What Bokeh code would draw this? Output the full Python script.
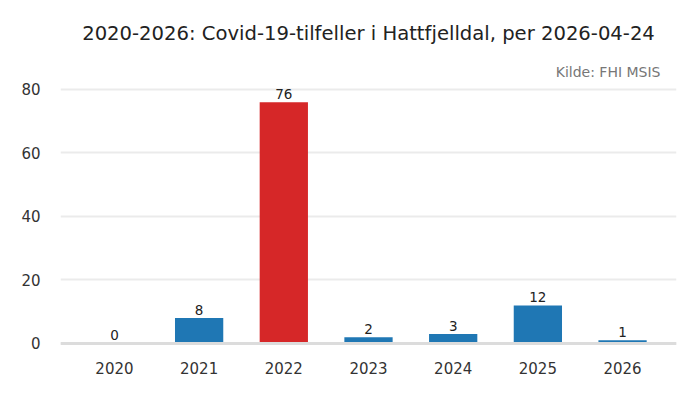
from bokeh.plotting import figure
from bokeh.models import FactorRange, Range1d, ColumnDataSource, Span, Label, FixedTicker
from bokeh.embed import file_html
from bokeh.resources import INLINE
from bokeh.core.properties import value

years = ["2020", "2021", "2022", "2023", "2024", "2025", "2026"]
cases = [0, 8, 76, 2, 3, 12, 1]
labels = ["0", "8", "76", "2", "3", "12", "1"]
colors = ["#1f77b4", "#1f77b4", "#d62728", "#1f77b4", "#1f77b4", "#1f77b4", "#1f77b4"]
y_ticks = [0, 20, 40, 60, 80]
title_text = "2020-2026: Covid-19-tilfeller i Hattfjelldal, per 2026-04-24"
source_text = "Kilde: FHI MSIS"

FONT = "DejaVu Sans"

src = ColumnDataSource(dict(year=years, cases=cases, label=labels, color=colors))

p = figure(
    width=684, height=384,
    x_range=FactorRange(factors=years, range_padding=0.137, range_padding_units="absolute"),
    y_range=Range1d(-0.63, 104.25),
    output_backend="svg", toolbar_location=None,
)
p.min_border_left = 60
p.min_border_right = 8
p.min_border_top = 12
p.min_border_bottom = 39
p.outline_line_color = None
p.background_fill_color = "white"
p.border_fill_color = "white"

p.vbar(x="year", top="cases", width=0.57, color="color", line_color=None, source=src)
p.text(x="year", y="cases", text="label", source=src,
       text_align="center", text_baseline="bottom", y_offset=-3,
       text_font=value(FONT), text_font_size="13.5px", text_color="#222222")

p.add_layout(Span(location=0, dimension="width", line_color="#dcdcdc", line_width=3))

p.xgrid.grid_line_color = None
p.ygrid.grid_line_color = "#ebebeb"
p.ygrid.grid_line_width = 2
p.yaxis.ticker = FixedTicker(ticks=y_ticks)

for ax in (p.xaxis[0], p.yaxis[0]):
    ax.axis_line_color = None
    ax.major_tick_line_color = None
    ax.minor_tick_line_color = None
    ax.major_label_text_font = FONT
    ax.major_label_text_font_size = "15px"
    ax.major_label_text_color = "#333333"
p.yaxis.major_label_standoff = 14
p.xaxis.major_label_standoff = 10

p.add_layout(Label(x=3.5, y=97.6, text=title_text, text_align="center", text_baseline="middle",
                   text_font=FONT, text_font_size="19.6px", text_color="#222222"))
p.add_layout(Label(x=6.948, y=85.4, text=source_text, text_align="right", text_baseline="middle",
                   text_font=FONT, text_font_size="14px", text_color="#777777"))

open("out.html", "w").write(file_html(p, INLINE))
